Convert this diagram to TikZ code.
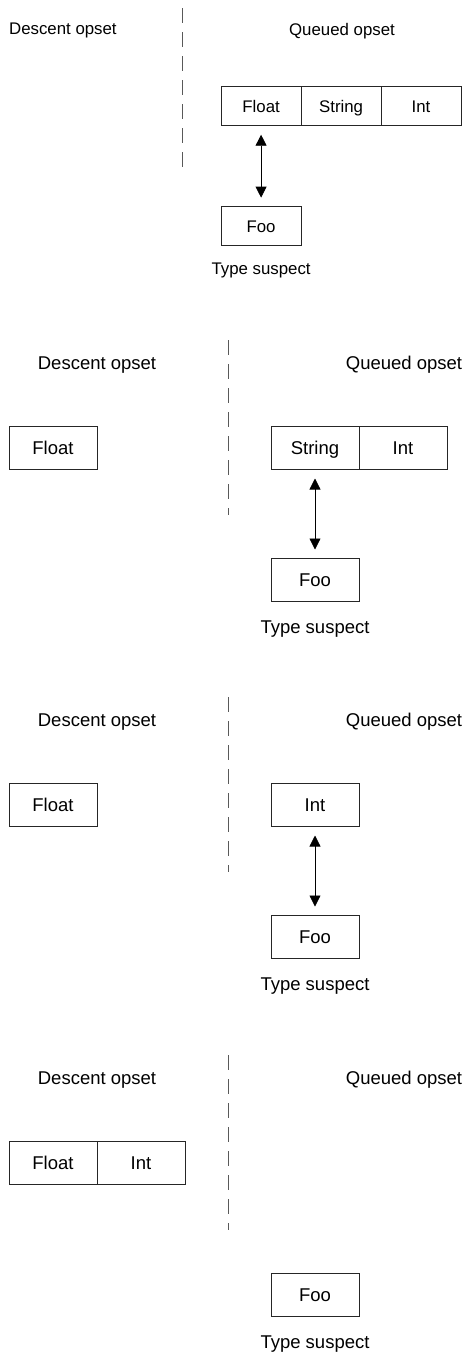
\documentclass[tikz,border=0pt]{standalone}
\usepackage{fontspec}
\setmainfont{Liberation Sans}
\usetikzlibrary{positioning,arrows.meta}
\begin{document}
\begin{tikzpicture}[x=1pt,y=-1pt]
        \tikzset{
          lbl/.style={font=\fontsize{18.5}{22}\selectfont,inner sep=0pt},
          cell/.style={draw=black!85,line width=0.8pt,outer sep=0pt,inner sep=0pt,
            minimum width=88pt,minimum height=43pt,text height=14pt,text depth=1pt,
            font=\fontsize{18.5}{22}\selectfont},
          divider/.style={black!65,line width=0.9pt,dash pattern=on 15pt off 9pt},
          link/.style={{Triangle[length=11pt,width=11pt]}-{Triangle[length=11pt,width=11pt]},
            line width=0.8pt,shorten <=9pt,shorten >=9pt}
        }
        \useasboundingbox (0,0) rectangle (464,1358);

        %STEP 1
        \begin{scope}[shift={(182,8)},scale=0.909,transform shape]
        \node[lbl] (desc1) at (-131,25) {Descent opset};
        \node[lbl] (queue1) at (176,25) {Queued opset};
        \coordinate (top1) at (0,0);
        \coordinate (bot1) at (0,175);
        \draw[divider] (top1) -- (bot1);
        \node[cell] (fl1) at (87,108) {Float};
        \node[cell,right=0pt of fl1] (st1) {String};
        \node[cell,right=0pt of st1] (in1) {Int};
        \node[cell] (foo1) at (87,240) {Foo};
        \node[lbl] (type1) at (87,289) {Type suspect};
        \draw[link] (fl1) -- (foo1);
        \end{scope}

        %STEP 2
        \begin{scope}[shift={(228,340)}]
        \node[lbl] (desc2) at (-131,25) {Descent opset};
        \node[lbl] (queue2) at (176,25) {Queued opset};
        \coordinate (top2) at (0,0);
        \coordinate (bot2) at (0,175);
        \draw[divider] (top2) -- (bot2);
        \node[cell] (fl2) at (-175,108) {Float};
        \node[cell] (st2) at (87,108) {String};
        \node[cell,right=0pt of st2] (in2) {Int};
        \node[cell] (foo2) at (87,240) {Foo};
        \node[lbl] (type2) at (87,289) {Type suspect};
        \draw[link] (st2) -- (foo2);
        \end{scope}

        %STEP 3
        \begin{scope}[shift={(228,697)}]
        \node[lbl] (desc3) at (-131,25) {Descent opset};
        \node[lbl] (queue3) at (176,25) {Queued opset};
        \coordinate (top3) at (0,0);
        \coordinate (bot3) at (0,175);
        \draw[divider] (top3) -- (bot3);
        \node[cell] (fl3) at (-175,108) {Float};
        \node[cell] (in3) at (87,108) {Int};
        \node[cell] (foo3) at (87,240) {Foo};
        \node[lbl] (type3) at (87,289) {Type suspect};
        \draw[link] (in3) -- (foo3);
        \end{scope}

        %STEP 4
        \begin{scope}[shift={(228,1055)}]
        \node[lbl] (desc4) at (-131,25) {Descent opset};
        \node[lbl] (queue4) at (176,25) {Queued opset};
        \coordinate (top4) at (0,0);
        \coordinate (bot4) at (0,175);
        \draw[divider] (top4) -- (bot4);
        \node[cell] (fl4) at (-175,108) {Float};
        \node[cell,right=0pt of fl4] (in4) {Int};
        \node[cell] (foo4) at (87,240) {Foo};
        \node[lbl] (type4) at (87,289) {Type suspect};
        \end{scope}
\end{tikzpicture}
\end{document}
